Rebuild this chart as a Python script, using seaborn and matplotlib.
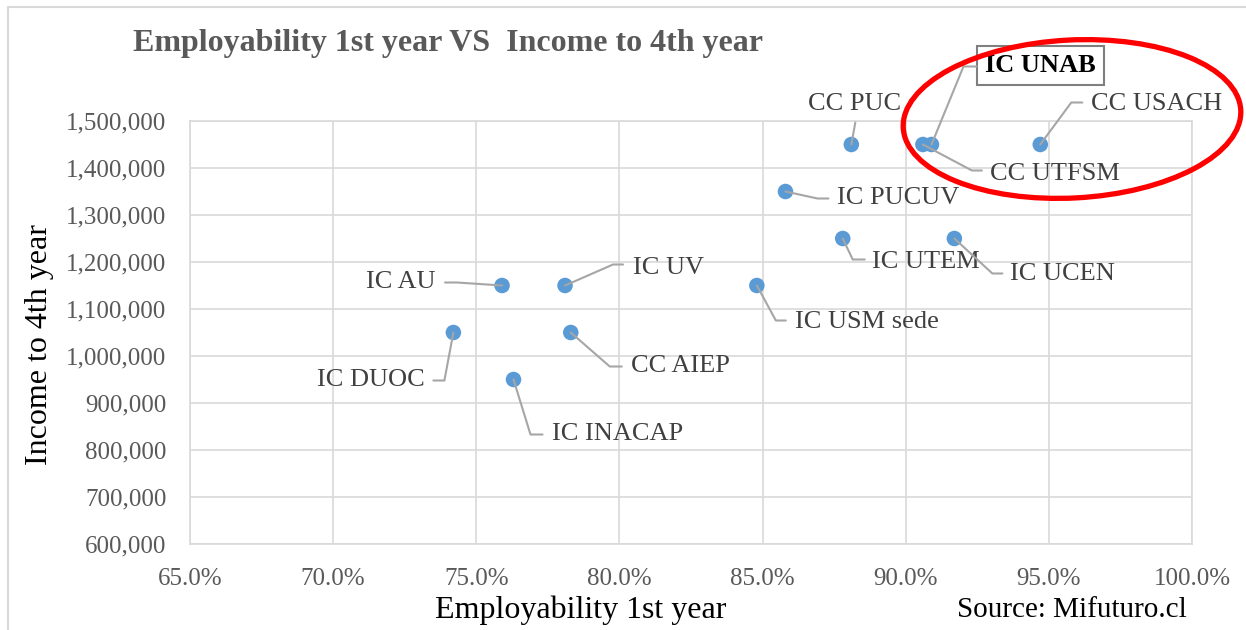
import matplotlib
matplotlib.use("Agg")
import matplotlib.pyplot as plt
import seaborn as sns
import pandas as pd
from matplotlib.transforms import IdentityTransform
from matplotlib.lines import Line2D
from matplotlib.patches import Ellipse

# ---------------- data ----------------
programs = ["CC PUC", "IC UNAB", "CC UTFSM", "CC USACH", "IC PUCUV", "IC UTEM",
            "IC UCEN", "IC USM sede", "IC AU", "IC UV", "IC DUOC", "CC AIEP", "IC INACAP"]
employability = [88.1, 90.9, 90.6, 94.7, 85.8, 87.8, 91.7, 84.8, 75.9, 78.1, 74.2, 78.3, 76.3]
income = [1450000, 1450000, 1450000, 1450000, 1350000, 1250000, 1250000,
          1150000, 1150000, 1150000, 1050000, 1050000, 950000]
x_ticks = [65, 70, 75, 80, 85, 90, 95, 100]
y_ticks = [600000, 700000, 800000, 900000, 1000000, 1100000, 1200000, 1300000, 1400000, 1500000]
title = "Employability 1st year VS  Income to 4th year"
x_title = "Employability 1st year"
y_title = "Income to 4th year"
source = "Source: Mifuturo.cl"
highlight = "IC UNAB"

# label placement (pixel offsets from the point, image y downwards):
# elbow, end of leader, text anchor, horizontal alignment
label_layout = {
    "CC PUC":      ((4, -22), (4, -22), (3, -41), "center"),
    "IC UNAB":     ((32, -78), (45, -78), (109, -79), "center"),
    "CC USACH":    ((31, -42), (42, -42), (51, -41), "left"),
    "CC UTFSM":    ((49, 26), (59, 26), (67, 29), "left"),
    "IC PUCUV":    ((32, 7), (43, 7), (52, 7), "left"),
    "IC UTEM":     ((10, 21), (22, 21), (29, 23), "left"),
    "IC UCEN":     ((38, 35), (48, 35), (56, 36), "left"),
    "IC USM sede": ((19, 35), (29, 35), (38, 37), "left"),
    "IC AU":       ((-45, -3), (-57, -3), (-67, -3), "right"),
    "IC UV":       ((48, -21), (58, -21), (68, -18), "left"),
    "IC DUOC":     ((-9, 48), (-20, 48), (-29, 48), "right"),
    "CC AIEP":     ((39, 34), (51, 34), (60, 34), "left"),
    "IC INACAP":   ((17, 55), (29, 55), (38, 55), "left"),
}

df = pd.DataFrame({"program": programs, "employability": employability, "income": income})

# ---------------- style ----------------
sns.set_style("white")
plt.rcParams["font.family"] = ["Liberation Serif", "DejaVu Serif"]

W, H = 1246, 630
fig = plt.figure(figsize=(W / 100, H / 100), dpi=100)
fig.patch.set_facecolor("white")

grid_c = "#D9D9D9"
ax = fig.add_axes([190 / W, 1 - 544 / H, (1192 - 190) / W, (544 - 121) / H])

sns.scatterplot(data=df, x="employability", y="income", ax=ax, s=125,
                color="#5B9BD5", edgecolor="none", linewidth=0, zorder=4, legend=False)

ax.set_xlim(x_ticks[0], x_ticks[-1])
ax.set_ylim(y_ticks[0], y_ticks[-1])
ax.set_xticks(x_ticks)
ax.set_yticks(y_ticks)
ax.set_xticklabels([f"{v:.1f}%" for v in x_ticks])
ax.set_yticklabels([f"{v:,.0f}" for v in y_ticks])
ax.tick_params(axis="both", length=0, labelsize=18, labelcolor="#595959")
ax.tick_params(axis="y", pad=17)
ax.tick_params(axis="x", pad=17)
ax.grid(True, color=grid_c, linewidth=1.2)
ax.set_axisbelow(True)
for sp in ax.spines.values():
    sp.set_color(grid_c)
    sp.set_linewidth(1.2)
ax.set_xlabel("")
ax.set_ylabel("")

ident = IdentityTransform()

# axis titles / title / source
fig.text(40, H - 345, y_title, transform=ident, rotation=90, ha="center", va="center",
         fontsize=23, color="black")
fig.text(581, H - 610, x_title, transform=ident, ha="center", va="center",
         fontsize=23, color="black")
fig.text(1072, H - 610, source, transform=ident, ha="center", va="center",
         fontsize=21, color="black")
fig.text(133, H - 44, title, transform=ident, ha="left", va="center",
         fontsize=23, fontweight="bold", color="#595959")

# data labels with elbow leaders
for name, xv, yv in zip(programs, employability, income):
    px, py = ax.transData.transform((xv, yv))
    (ex, ey), (lx, ly), (tx, ty), ha = label_layout[name]
    line = Line2D([px, px + ex, px + lx], [py, py - ey, py - ly], transform=ident,
                  color="#A6A6A6", linewidth=1.5, zorder=5)
    fig.add_artist(line)
    if name == highlight:
        fig.text(px + tx, py - ty, name, transform=ident, ha=ha, va="center",
                 fontsize=19, fontweight="bold", color="black",
                 bbox=dict(boxstyle="square,pad=0.3", facecolor="white",
                           edgecolor="#7F7F7F", linewidth=1.5))
    else:
        fig.text(px + tx, py - ty, name, transform=ident, ha=ha, va="center",
                 fontsize=19, color="#404040")

# red highlight ellipse
ell = Ellipse((1072, H - 119), 338, 158, angle=3, transform=ident,
              facecolor="none", edgecolor="#FF0000", linewidth=3.8, zorder=10)
fig.add_artist(ell)

# chart border
fig.add_artist(Line2D([8, 8], [0, H - 7], transform=ident, color=grid_c, linewidth=1.5))
fig.add_artist(Line2D([8, W], [H - 7, H - 7], transform=ident, color=grid_c, linewidth=1.5))

fig.savefig("out.png", dpi=100)
